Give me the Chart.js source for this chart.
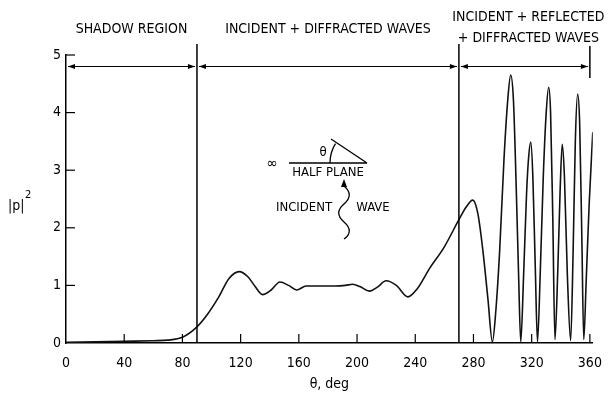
<!DOCTYPE html>
<html>
<head>
<meta charset="UTF-8">
<title>|p|^2 vs theta</title>
<script src="https://cdn.jsdelivr.net/npm/chart.js"></script>
<style>
    html, body { margin: 0; padding: 0; background: #fff; }
    #grafico { width: 614px; height: 401px; }
</style>
</head>
<body>
<div id="grafico"><canvas id="myChartCanvas" width="614" height="401"></canvas></div>
<script>
    // valores
    var theta = [0, 20, 40, 60, 70, 80, 90, 97, 105, 112, 119, 125, 130, 135, 141, 147, 153, 158.5, 165, 175,
        185, 192, 197, 202, 208.5, 214, 220, 227, 235, 241, 250, 260, 270, 275, 279.5, 283, 286.5, 290, 293,
        295.5, 298, 301, 303.5, 305.6, 307.5, 309.5, 311, 312.5, 314.5, 316.5, 318, 319.4, 320.8, 322.5,
        324, 326, 328, 330, 331.7, 333, 334.5, 336, 338, 339.5, 341, 342.5, 344.5, 346.8, 348.5,
        350, 351.6, 353, 354.5, 355.8, 357.5, 359.5, 362];
    var p2 = [0.01, 0.02, 0.03, 0.04, 0.05, 0.1, 0.28, 0.49, 0.8, 1.12, 1.24, 1.15, 0.98, 0.84, 0.92, 1.06, 1.0, 0.92, 0.99, 0.99,
        0.99, 1.0, 1.02, 0.98, 0.9, 0.97, 1.08, 1.0, 0.8, 0.93, 1.3, 1.67, 2.14, 2.36, 2.48, 2.25, 1.6, 0.75, 0.02,
        0.6, 1.6, 3.2, 4.2, 4.65, 4.2, 2.6, 1.2, 0.02, 1.2, 2.6, 3.25, 3.49, 2.9, 1.3,
        0.02, 1.3, 2.9, 4.0, 4.44, 4.0, 2.2, 0.06, 1.3, 2.6, 3.45, 2.9, 1.2, 0.04, 1.6,
        3.5, 4.32, 3.8, 1.8, 0.06, 1.1, 2.4, 3.66];

    var xTicks = [0, 40, 80, 120, 160, 200, 240, 280, 320, 360];
    var yTicks = [0, 1, 2, 3, 4, 5];

    // regiões: limites em graus e textos
    var regionBounds = [0, 90, 270, 360];
    var regionLabels = [["SHADOW REGION"], ["INCIDENT + DIFFRACTED WAVES"], ["INCIDENT + REFLECTED", "+ DIFFRACTED WAVES"]];
    var arrowLevel = 4.8;

    var fonte = '"DejaVu Sans Condensed", "Liberation Sans Narrow", sans-serif';

    var pontos = [];
    for (var i = 0; i < theta.length; i++) {
        pontos.push({ x: theta[i], y: p2[i] });
    }

    function seta(ctx, x, y, dir) {
        ctx.beginPath();
        ctx.moveTo(x, y);
        ctx.lineTo(x - dir * 7, y - 2.5);
        ctx.lineTo(x - dir * 7, y + 2.5);
        ctx.closePath();
        ctx.fill();
    }

    // ticks internos, setas das regiões e o desenho do semiplano
    const decoracao = {
        id: 'decoracao',
        afterDraw(chart) {
            const ctx = chart.ctx;
            const xs = chart.scales.x;
            const ys = chart.scales.y;
            const area = chart.chartArea;
            ctx.save();
            ctx.strokeStyle = '#000';
            ctx.fillStyle = '#000';
            ctx.lineWidth = 1.2;

            // ticks para dentro
            xTicks.forEach(function (v) {
                if (v === 0) return;
                const px = xs.getPixelForValue(v);
                ctx.beginPath();
                ctx.moveTo(px, area.bottom);
                ctx.lineTo(px, area.bottom - 9);
                ctx.stroke();
            });
            yTicks.forEach(function (v) {
                if (v === 0) return;
                const py = ys.getPixelForValue(v);
                ctx.beginPath();
                ctx.moveTo(area.left, py);
                ctx.lineTo(area.left + 9, py);
                ctx.stroke();
            });

            // linhas verticais e setas
            const ya = ys.getPixelForValue(arrowLevel);
            ctx.lineWidth = 1.5;
            for (var k = 1; k < regionBounds.length; k++) {
                const px = xs.getPixelForValue(regionBounds[k]);
                ctx.beginPath();
                if (k < regionBounds.length - 1) {
                    ctx.moveTo(px, 44);
                    ctx.lineTo(px, area.bottom);
                } else {
                    ctx.moveTo(px, 46);
                    ctx.lineTo(px, 78);
                }
                ctx.stroke();
            }
            ctx.lineWidth = 1.1;
            for (var k = 0; k < regionBounds.length - 1; k++) {
                const a = xs.getPixelForValue(regionBounds[k]) + 2;
                const b = xs.getPixelForValue(regionBounds[k + 1]) - 2;
                ctx.beginPath();
                ctx.moveTo(a, ya);
                ctx.lineTo(b, ya);
                ctx.stroke();
                seta(ctx, a, ya, -1);
                seta(ctx, b, ya, 1);
            }

            // textos das regiões
            ctx.font = '14px ' + fonte;
            ctx.textAlign = 'center';
            ctx.textBaseline = 'middle';
            for (var k = 0; k < regionLabels.length; k++) {
                const cx = xs.getPixelForValue((regionBounds[k] + regionBounds[k + 1]) / 2);
                const linhas = regionLabels[k];
                if (linhas.length === 1) {
                    ctx.fillText(linhas[0], cx, 29);
                } else {
                    ctx.fillText(linhas[0], cx + 4, 17);
                    ctx.fillText(linhas[1], cx + 4, 38);
                }
            }

            // rótulo do eixo y
            ctx.textAlign = 'left';
            ctx.font = '14px ' + fonte;
            ctx.fillText('|p|', 8, 206);
            ctx.font = '11px ' + fonte;
            ctx.fillText('2', 25, 195);

            // semiplano
            ctx.lineWidth = 1.3;
            ctx.beginPath();
            ctx.moveTo(289, 163);
            ctx.lineTo(367, 163);
            ctx.moveTo(367, 163);
            ctx.lineTo(331, 139);
            ctx.stroke();
            ctx.beginPath();
            ctx.arc(367, 163, 37, Math.PI, Math.PI + 0.55);
            ctx.stroke();
            ctx.font = '15px ' + fonte;
            ctx.textAlign = 'center';
            ctx.fillText('∞', 272, 164);
            ctx.font = '13px ' + fonte;
            ctx.fillText('θ', 323, 153);
            ctx.fillText('HALF PLANE', 328, 173);
            ctx.fillText('INCIDENT', 304, 208);
            ctx.fillText('WAVE', 373, 208);

            // onda incidente
            ctx.beginPath();
            ctx.moveTo(344, 186);
            ctx.bezierCurveTo(351, 192, 351, 198, 344, 204);
            ctx.bezierCurveTo(337, 210, 337, 216, 344, 222);
            ctx.bezierCurveTo(351, 228, 351, 234, 344, 239);
            ctx.stroke();
            ctx.beginPath();
            ctx.moveTo(344, 179);
            ctx.lineTo(341, 187);
            ctx.lineTo(347, 187);
            ctx.closePath();
            ctx.fill();

            ctx.restore();
        }
    };

    const config = {
        type: 'line',
        data: {
            datasets: [{
                data: pontos,
                borderColor: '#111',
                borderWidth: 1.6,
                pointRadius: 0,
                fill: false,
                cubicInterpolationMode: 'monotone'
            }]
        },
        options: {
            responsive: false,
            animation: false,
            layout: { padding: { top: 55, right: 20, left: 0, bottom: 0 } },
            plugins: {
                legend: { display: false },
                tooltip: { enabled: false }
            },
            scales: {
                x: {
                    type: 'linear',
                    min: 0,
                    max: 362,
                    grid: { display: false, drawTicks: false },
                    border: { color: '#000', width: 1.5 },
                    afterBuildTicks: function (s) { s.ticks = xTicks.map(function (v) { return { value: v }; }); },
                    afterFit: function (s) { s.height = 58; },
                    ticks: { color: '#000', padding: 12, maxRotation: 0, font: { family: fonte, size: 14 } },
                    title: { display: true, text: 'θ, deg', color: '#000', font: { family: fonte, size: 14 }, padding: { top: 4, bottom: 8 } }
                },
                y: {
                    min: 0,
                    max: 5,
                    grid: { display: false, drawTicks: false },
                    border: { color: '#000', width: 1.5 },
                    afterBuildTicks: function (s) { s.ticks = yTicks.map(function (v) { return { value: v }; }); },
                    afterFit: function (s) { s.width = 66; },
                    ticks: { color: '#000', padding: 5, font: { family: fonte, size: 14 } }
                }
            }
        },
        plugins: [decoracao]
    };

    let myChart = new Chart(document.getElementById('myChartCanvas'), config);
</script>
</body>
</html>
